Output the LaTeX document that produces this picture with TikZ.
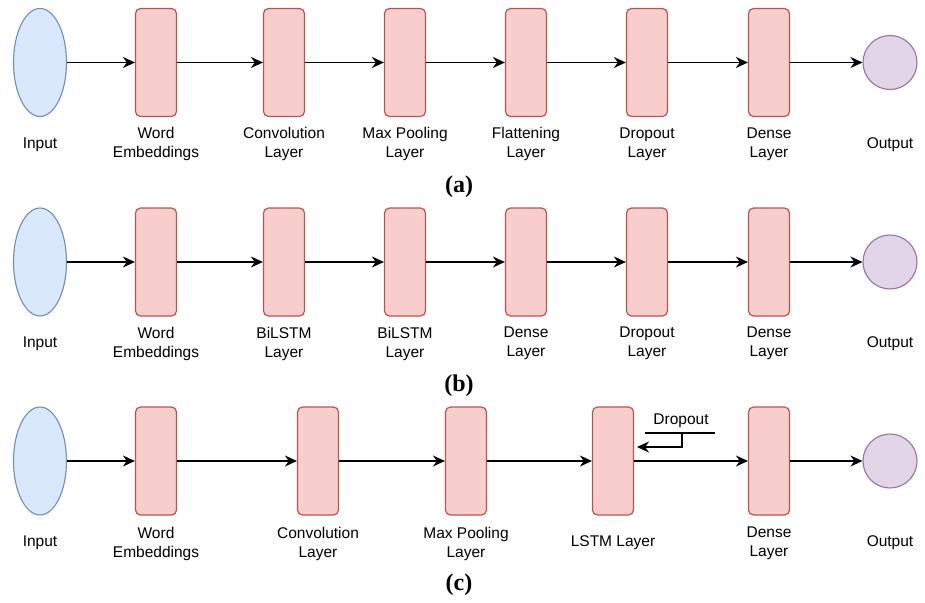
\documentclass[tikz,border=0pt]{standalone}
\usepackage{fontspec}
\setmainfont{Liberation Sans}
\newfontfamily\capfont{Liberation Serif}
\usetikzlibrary{arrows.meta,shapes.geometric}
\definecolor{layerfill}{HTML}{F8CECC}
\definecolor{layerline}{HTML}{B85450}
\definecolor{infill}{HTML}{DAE8FC}
\definecolor{inline}{HTML}{6C8EBF}
\definecolor{outfill}{HTML}{E1D5E7}
\definecolor{outline}{HTML}{9673A6}
\tikzset{
  layer/.style={draw=layerline, fill=layerfill, line width=1.2pt, rounded corners=5pt,
    minimum width=41pt, minimum height=108pt, inner sep=0pt},
  inp/.style={draw=inline, fill=infill, line width=1.1pt, ellipse,
    minimum width=53pt, minimum height=108pt, inner sep=0pt},
  outp/.style={draw=outline, fill=outfill, line width=1.1pt, circle,
    minimum size=54pt, inner sep=0pt},
  lab/.style={align=center, font=\fontsize{15.5}{19}\selectfont, inner sep=0pt},
  subcap/.style={font=\capfont\bfseries\fontsize{24}{28}\selectfont, inner sep=0pt},
  flow/.style={line width=1.4pt, -{Stealth[length=12pt, width=11pt]}}
}
\begin{document}
\begin{tikzpicture}[x=1pt, y=-1pt]
\useasboundingbox (0,0) rectangle (925,602);

% ---- (a) CNN ----
\node[inp]   (a0) at (40,62.5) {};
\node[layer] (a1) at (156,62.5) {};
\node[layer] (a2) at (284,62.5) {};
\node[layer] (a3) at (405,62.5) {};
\node[layer] (a4) at (526,62.5) {};
\node[layer] (a5) at (647,62.5) {};
\node[layer] (a6) at (769,62.5) {};
\node[outp]  (a7) at (890,62.5) {};
\foreach \i/\j in {0/1,1/2,2/3,3/4,4/5,5/6,6/7} \draw[flow] (a\i) -- (a\j);
\node[lab] (la0) at (40,145) {Input};
\node[lab] (la1) at (156,144) {Word\\Embeddings};
\node[lab] (la2) at (284,144) {Convolution\\Layer};
\node[lab] (la3) at (405,144) {Max Pooling\\Layer};
\node[lab] (la4) at (526,144) {Flattening\\Layer};
\node[lab] (la5) at (647,144) {Dropout\\Layer};
\node[lab] (la6) at (769,144) {Dense\\Layer};
\node[lab] (la7) at (890,145) {Output};
\node[subcap] (ca) at (459,187) {(a)};

% ---- (b) BiLSTM ----
\node[inp]   (b0) at (40,262) {};
\node[layer] (b1) at (156,262) {};
\node[layer] (b2) at (284,262) {};
\node[layer] (b3) at (405,262) {};
\node[layer] (b4) at (526,262) {};
\node[layer] (b5) at (647,262) {};
\node[layer] (b6) at (769,262) {};
\node[outp]  (b7) at (890,262) {};
\foreach \i/\j in {0/1,1/2,2/3,3/4,4/5,5/6,6/7} \draw[flow] (b\i) -- (b\j);
\node[lab] (lb0) at (40,343.5) {Input};
\node[lab] (lb1) at (156,343.5) {Word\\Embeddings};
\node[lab] (lb2) at (284,343.5) {BiLSTM\\Layer};
\node[lab] (lb3) at (405,343.5) {BiLSTM\\Layer};
\node[lab] (lb4) at (526,343.5) {Dense\\Layer};
\node[lab] (lb5) at (647,343.5) {Dropout\\Layer};
\node[lab] (lb6) at (769,343.5) {Dense\\Layer};
\node[lab] (lb7) at (890,343.5) {Output};
\node[subcap] (cb) at (459,386) {(b)};

% ---- (c) CNN + LSTM ----
\node[inp]   (c0) at (40,461) {};
\node[layer] (c1) at (156,461) {};
\node[layer] (c2) at (318,461) {};
\node[layer] (c3) at (466,461) {};
\node[layer] (c4) at (613,461) {};
\node[layer] (c5) at (769,461) {};
\node[outp]  (c6) at (890,461) {};
\foreach \i/\j in {0/1,1/2,2/3,3/4,4/5,5/6} \draw[flow] (c\i) -- (c\j);
\node[lab] (lc0) at (40,543) {Input};
\node[lab] (lc1) at (156,543.5) {Word\\Embeddings};
\node[lab] (lc2) at (318,543.5) {Convolution\\Layer};
\node[lab] (lc3) at (466,543.5) {Max Pooling\\Layer};
\node[lab] (lc4) at (613,543) {LSTM Layer};
\node[lab] (lc5) at (769,543.5) {Dense\\Layer};
\node[lab] (lc6) at (890,543) {Output};
\node[subcap] (cc) at (459,585) {(c)};

% dropout annotation on the LSTM output
\node[lab] (dtxt) at (681,421) {Dropout};
\coordinate (dl) at (645,433);
\coordinate (dr) at (715,433);
\coordinate (dm) at (682,433);
\coordinate (dtip) at (637,447);
\draw[line width=1.2pt] (dl) -- (dr);
\draw[flow, line width=1.2pt] (dm) |- (dtip);
\end{tikzpicture}
\end{document}
